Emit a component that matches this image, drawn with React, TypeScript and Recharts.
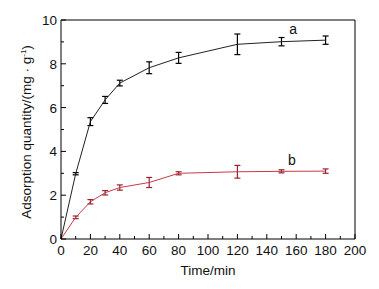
import { LineChart, Line, XAxis, YAxis, ErrorBar, ReferenceLine, ReferenceDot } from 'recharts';

const times = [0, 10, 20, 30, 40, 60, 80, 120, 150, 180];
const seriesA = [0, 2.98, 5.36, 6.35, 7.12, 7.82, 8.27, 8.89, 9.01, 9.08];
const errA = [0, 0.05, 0.18, 0.16, 0.13, 0.27, 0.25, 0.47, 0.19, 0.19];
const seriesB = [0, 0.99, 1.7, 2.11, 2.35, 2.58, 3.0, 3.07, 3.09, 3.1];
const errB = [0, 0.06, 0.1, 0.1, 0.12, 0.23, 0.07, 0.29, 0.07, 0.1];

const xTicks = [0, 10, 20, 30, 40, 50, 60, 70, 80, 90, 100, 110, 120, 130, 140, 150, 160, 170, 180, 190, 200];
const yTicks = [0, 1, 2, 3, 4, 5, 6, 7, 8, 9, 10];

const data = times.map((t, i) => ({ t, a: seriesA[i], ea: errA[i], b: seriesB[i], eb: errB[i] }));

const font = 'Arial, "Liberation Sans", sans-serif';
const red = '#c43c48';

const XTick = (props: any) => {
  const { x, y, payload } = props;
  const major = payload.value % 20 === 0;
  return (
    <g>
      <line x1={x} y1={y} x2={x} y2={y - (major ? 5 : 3)} stroke="#000" />
      {major && (
        <text x={x} y={y + 15.5} textAnchor="middle" fontSize={13.5} fill="#111" fontFamily={font}>
          {payload.value}
        </text>
      )}
    </g>
  );
};

const YTick = (props: any) => {
  const { x, y, payload } = props;
  const major = payload.value % 2 === 0;
  return (
    <g>
      <line x1={x} y1={y} x2={x + (major ? 5 : 3)} y2={y} stroke="#000" />
      {major && (
        <text x={x - 4} y={y + 5} textAnchor="end" fontSize={13.5} fill="#111" fontFamily={font}>
          {payload.value}
        </text>
      )}
    </g>
  );
};

const YLabel = () => (
  <text
    transform="translate(31, 132) rotate(-90)"
    textAnchor="middle"
    fontSize={13.5}
    fill="#111"
    fontFamily={font}
  >
    Adsorption quantity/(mg · g
    <tspan dy={-5} fontSize={8}>-1</tspan>
    <tspan dy={5}>)</tspan>
  </text>
);

export default function App() {
  return (
    <div style={{ position: 'absolute', left: 0, top: 0, width: 379, height: 289, background: '#fff' }}>
      <LineChart width={379} height={289} data={data} margin={{ top: 20, right: 24, left: 0, bottom: 0 }}>
        <XAxis
          dataKey="t"
          type="number"
          domain={[0, 200]}
          ticks={xTicks}
          interval={0}
          height={50}
          tickSize={0}
          tickMargin={0}
          tickLine={false}
          axisLine={{ stroke: '#000' }}
          tick={<XTick />}
          label={{
            value: 'Time/min',
            position: 'insideBottom',
            offset: 14,
            fontSize: 13.5,
            fill: '#111',
            fontFamily: font,
          }}
        />
        <YAxis
          type="number"
          domain={[0, 10]}
          ticks={yTicks}
          interval={0}
          width={61}
          tickSize={0}
          tickMargin={0}
          tickLine={false}
          axisLine={{ stroke: '#000' }}
          tick={<YTick />}
          label={{ content: () => <YLabel /> }}
        />
        <ReferenceLine y={10} stroke="#000" />
        <ReferenceLine x={200} stroke="#000" />
        <Line
          type="linear"
          dataKey="a"
          stroke="#222"
          strokeWidth={1}
          dot={false}
          isAnimationActive={false}
        >
          <ErrorBar dataKey="ea" direction="y" width={3} stroke="#000" strokeWidth={1.2} isAnimationActive={false} />
        </Line>
        <Line
          type="linear"
          dataKey="b"
          stroke={red}
          strokeWidth={1}
          dot={false}
          isAnimationActive={false}
        >
          <ErrorBar dataKey="eb" direction="y" width={3} stroke="#9c2030" strokeWidth={1.2} isAnimationActive={false} />
        </Line>
        <ReferenceDot
          x={158}
          y={9.6}
          r={0}
          fill="none"
          stroke="none"
          label={{ value: 'a', position: 'center', fontSize: 14, fill: '#111', fontFamily: font }}
        />
        <ReferenceDot
          x={157}
          y={3.62}
          r={0}
          fill="none"
          stroke="none"
          label={{ value: 'b', position: 'center', fontSize: 14, fill: '#111', fontFamily: font }}
        />
      </LineChart>
    </div>
  );
}
